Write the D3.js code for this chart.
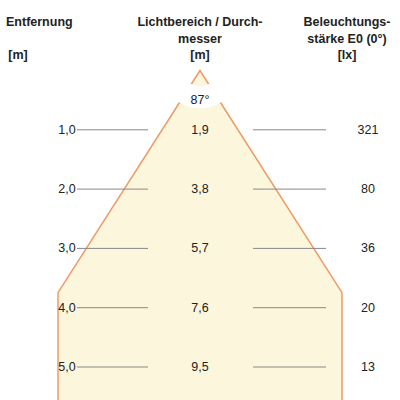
<!DOCTYPE html>
<html><head><meta charset="utf-8">
<script src="https://cdn.jsdelivr.net/npm/d3@7"></script>
<style>body{margin:0;background:#fff}text{font-family:"Liberation Sans",Arial,sans-serif;font-size:12.5px;fill:#222}</style>
</head><body><svg id="c" width="400" height="400"></svg>
<script>
const distances = [1.0, 2.0, 3.0, 4.0, 5.0];
const diameters = [1.9, 3.8, 5.7, 7.6, 9.5];
const lux = [321, 80, 36, 20, 13];
const angle = "87°";

const svg = d3.select("#c");
const y = d3.scaleLinear().domain([0, 5]).range([70.5, 367]);
const half = d3.scaleLinear().domain([0, 1.9]).range([0, 37.9]); // half-width per diameter
const fmt = v => v.toFixed(1).replace(".", ",");
const cx = 200, xMin = 58, xMax = 342;

// cone, clipped at the sides
const tEdge = d3.scaleLinear().domain([0, 5]).range([0, 9.5]).invert(half.invert(cx - xMin));
const yEdge = y(tEdge);
svg.append("path")
  .attr("d", `M${cx},${y(0)}L${xMin},${yEdge}L${xMin},400L${xMax},400L${xMax},${yEdge}Z`)
  .attr("fill", "#fcf6dd");
svg.append("path")
  .attr("d", `M${xMin},400L${xMin},${yEdge}L${cx},${y(0)}L${xMax},${yEdge}L${xMax},400`)
  .attr("fill", "none").attr("stroke", "#ef9a66").attr("stroke-width", 1.5);
// white band around apex
svg.append("path")
  .attr("d", d3.arc().innerRadius(16).outerRadius(38).startAngle(Math.PI * 0.7).endAngle(Math.PI * 1.3)())
  .attr("transform", `translate(${cx},${y(0)})`).attr("fill", "#fff");
svg.append("text").attr("x", cx).attr("y", 104).attr("text-anchor", "middle").text(angle);

// headers
const hdr = (x, lines, anchor) => lines.forEach((l, i) =>
  svg.append("text").attr("x", x).attr("y", 26 + i * 16.5).attr("text-anchor", anchor)
    .style("font-weight", "bold").text(l));
hdr(6, ["Entfernung"], "start");
hdr(18, ["", "", "[m]"], "middle");
hdr(200, ["Lichtbereich / Durch-", "messer", "[m]"], "middle");
hdr(347, ["Beleuchtungs-", "stärke E0 (0°)", "[lx]"], "middle");

// rows
distances.forEach((d, i) => {
  const yy = y(d);
  svg.append("line").attr("x1", 77).attr("x2", 148).attr("y1", yy).attr("y2", yy).attr("stroke", "#888");
  svg.append("line").attr("x1", 253).attr("x2", 326).attr("y1", yy).attr("y2", yy).attr("stroke", "#888");
  svg.append("text").attr("x", 67).attr("y", yy + 4).attr("text-anchor", "middle").text(fmt(d));
  svg.append("text").attr("x", cx).attr("y", yy + 4).attr("text-anchor", "middle").text(fmt(diameters[i]));
  svg.append("text").attr("x", 368).attr("y", yy + 4).attr("text-anchor", "middle").text(lux[i]);
});
</script></body></html>
